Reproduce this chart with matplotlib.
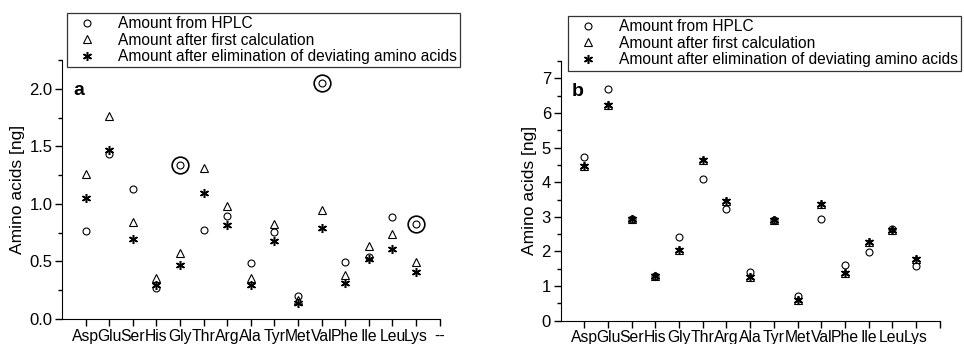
import matplotlib.pyplot as plt
import numpy as np

plt.rcParams['font.family'] = ['Liberation Sans', 'DejaVu Sans']

amino = ['Asp', 'Glu', 'Ser', 'His', 'Gly', 'Thr', 'Arg', 'Ala', 'Tyr', 'Met',
         'Val', 'Phe', 'Ile', 'Leu', 'Lys']

# panel a
hplc_a = [0.76, 1.43, 1.13, 0.265, 1.335, 0.775, 0.897, 0.488, 0.755, 0.198,
          2.05, 0.494, 0.54, 0.882, 0.821]
first_a = [1.26, 1.762, 0.839, 0.36, 0.572, 1.31, 0.978, 0.36, 0.821, 0.165,
           0.95, 0.38, 0.63, 0.738, 0.499]
elim_a = [1.048, 1.472, 0.694, 0.293, 0.47, 1.092, 0.813, 0.293, 0.68, 0.137,
          0.787, 0.316, 0.525, 0.607, 0.41]
deviating_a = ['Gly', 'Val', 'Lys']

# panel b
hplc_b = [4.73, 6.68, 2.95, 1.29, 2.41, 4.10, 3.23, 1.41, 2.90, 0.72,
          2.94, 1.61, 1.97, 2.66, 1.59]
first_b = [4.46, 6.22, 2.95, 1.29, 2.03, 4.63, 3.47, 1.27, 2.90, 0.60,
           3.37, 1.37, 2.26, 2.62, 1.78]
elim_b = [4.46, 6.22, 2.95, 1.29, 2.03, 4.63, 3.47, 1.27, 2.90, 0.60,
          3.37, 1.37, 2.26, 2.62, 1.78]

labels = ['Amount from HPLC', 'Amount after first calculation',
          'Amount after elimination of deviating amino acids']

star = (6, 2, 0)
ms = 5

fig = plt.figure(figsize=(9.64, 3.44), dpi=100)
ax1 = fig.add_axes([0.0643, 0.0727, 0.3918, 0.753])
ax2 = fig.add_axes([0.5816, 0.0677, 0.3932, 0.755])

x = np.arange(1, len(amino) + 1)


def draw(ax, hplc, first, elim):
    h1, = ax.plot(x, hplc, ls='none', marker='o', ms=ms, mfc='none', mec='black', mew=0.8)
    h2, = ax.plot(x, first, ls='none', marker='^', ms=ms + 0.5, mfc='none', mec='black', mew=0.8)
    h3, = ax.plot(x, elim, ls='none', marker=star, ms=ms + 1.5, mec='black', mew=1.1)
    for s in ['top', 'right']:
        ax.spines[s].set_visible(False)
    ax.set_xlim(0, 16)
    ax.set_xticks(np.arange(1, 17))
    ax.tick_params(axis='both', direction='out', length=5, width=1, labelsize=11.3, pad=2)
    ax.tick_params(axis='y', labelsize=12)
    ax.tick_params(axis='y', which='minor', direction='out', length=3, width=1)
    ax.set_ylabel('Amino acids [ng]', fontsize=12.5, labelpad=3)
    return [h1, h2, h3]


handles = draw(ax1, hplc_a, first_a, elim_a)
ax1.set_xticklabels(amino + ['--'])
ax1.set_ylim(0, 2.25)
ax1.set_yticks(np.arange(0, 2.01, 0.5))
ax1.set_yticks(np.arange(0, 2.26, 0.25), minor=True)
ax1.yaxis.set_major_formatter(plt.FormatStrFormatter('%.1f'))
for name in deviating_a:
    i = amino.index(name)
    ax1.plot(x[i], hplc_a[i], ls='none', marker='o', ms=12, mfc='none', mec='black', mew=1.2)
ax1.text(0.03, 0.865, 'a', transform=ax1.transAxes, fontsize=14, fontweight='bold')

draw(ax2, hplc_b, first_b, elim_b)
ax2.set_xticklabels(amino + [''])
ax2.set_ylim(0, 7.5)
ax2.set_yticks(np.arange(0, 7.1, 1))
ax2.set_yticks(np.arange(0, 7.6, 0.5), minor=True)
ax2.text(0.03, 0.865, 'b', transform=ax2.transAxes, fontsize=14, fontweight='bold')

for left, top in [(0.0695, 0.962), (0.589, 0.953)]:
    leg = fig.legend(handles, labels, loc='upper left', bbox_to_anchor=(left, top),
                     fontsize=11.2, frameon=True, fancybox=False, edgecolor='black',
                     handletextpad=0.9, borderpad=0.2, labelspacing=0.1,
                     handlelength=2.2, borderaxespad=0)
    leg.get_frame().set_linewidth(0.9)

fig.savefig('out.png', dpi=100)
